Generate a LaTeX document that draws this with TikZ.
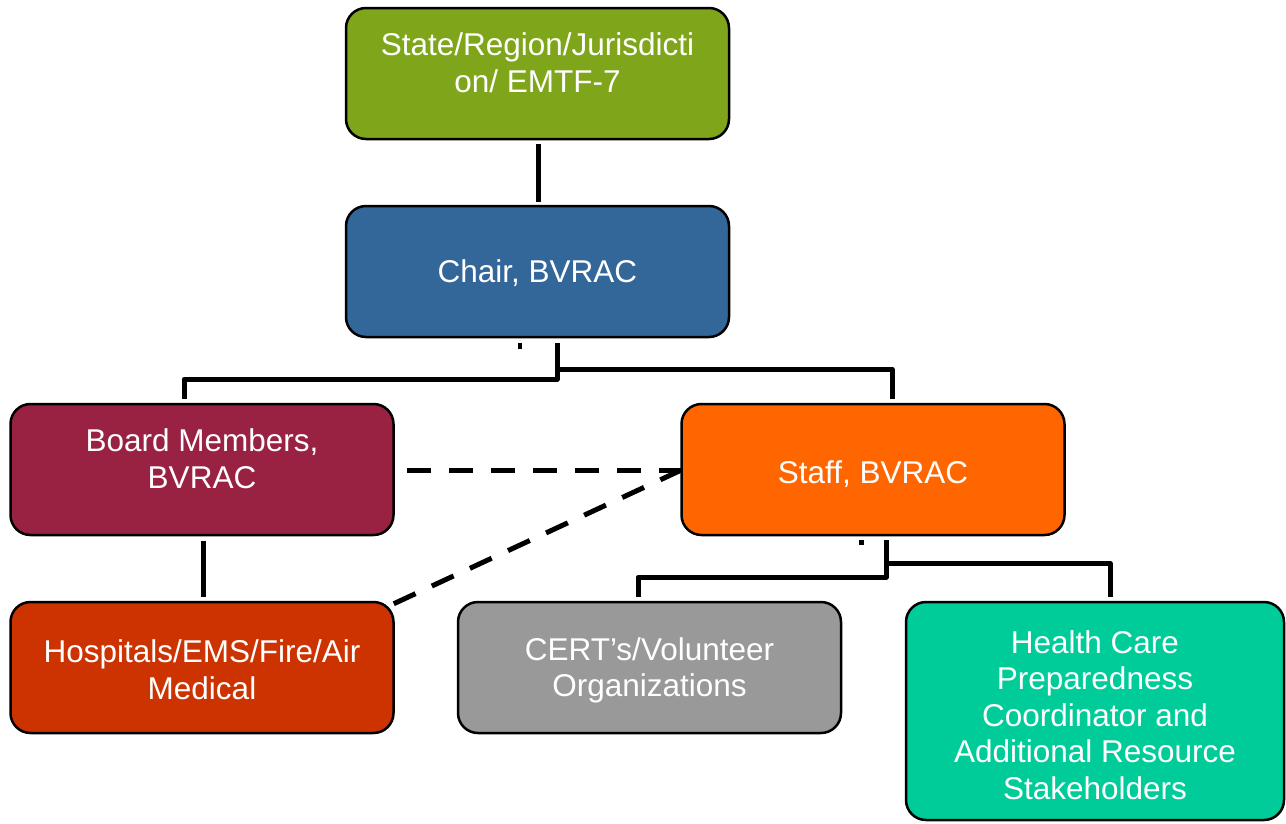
\documentclass[tikz,border=0pt]{standalone}
\usepackage{fontspec}
\setmainfont{Liberation Sans}
\usetikzlibrary{calc}
\definecolor{cgreen}{RGB}{127,166,26}
\definecolor{cblue}{RGB}{51,102,153}
\definecolor{cmaroon}{RGB}{153,33,66}
\definecolor{corange}{RGB}{255,102,0}
\definecolor{cred}{RGB}{204,51,0}
\definecolor{cgray}{RGB}{153,153,153}
\definecolor{cteal}{RGB}{0,204,153}
\begin{document}
\begin{tikzpicture}[x=1pt,y=-1pt,
  box/.style={draw=black,line width=2.5pt,rounded corners=20pt,minimum width=383pt,minimum height=131pt,inner sep=0pt},
  txt/.style={text=white,align=center,inner sep=0pt,font=\fontsize{31.5}{36.5}\selectfont},
  conn/.style={line width=5pt,line join=round},
  dashconn/.style={line width=5pt,dash pattern=on 24pt off 18pt}]
\useasboundingbox (0,0) rectangle (1286,823);
\node[box,fill=cgreen] (state) at (537.5,73.5) {};
\node[box,fill=cblue] (chair) at (537.5,271.5) {};
\node[box,fill=cmaroon] (board) at (202,469.5) {};
\node[box,fill=corange] (staff) at (873,469.5) {};
\node[box,fill=cred] (hosp) at (202,667.5) {};
\node[box,fill=cgray] (cert) at (649.5,667.5) {};
\node[box,fill=cteal,minimum width=378pt,minimum height=218pt] (health) at (1095,711) {};
\node[txt] (statet) at ($(state.center)+(0,-11)$) {State/Region/Jurisdicti\\on/ EMTF-7};
\node[txt] (chairt) at ($(chair.center)+(0,2)$) {Chair, BVRAC};
\node[txt] (boardt) at ($(board.center)+(0,-11)$) {Board Members,\\BVRAC};
\node[txt] (stafft) at ($(staff.center)+(0,5)$) {Staff, BVRAC};
\node[txt] (hospt) at ($(hosp.center)+(0,2)$) {Hospitals/EMS/Fire/Air\\Medical};
\node[txt] (certt) at ($(cert.center)+(0,3)$) {CERT’s/Volunteer\\Organizations};
\node[txt] (healtht) at ($(health.center)+(0,4)$) {Health Care\\Preparedness\\Coordinator and\\Additional Resource\\Stakeholders};
% connectors
\draw[conn] ($(state.south)+(0.5,4)$) -- ($(chair.north)+(0.5,-3)$);
\coordinate (cj) at ($(chair.south)+(19.5,5)$);
\draw[conn] (cj) -- ($(cj)+(0,36)$) -| ($(board.north)+(-18,-4)$);
\draw[conn] ($(cj)+(0,26)$) -| ($(staff.north)+(19,-4)$);
\fill ($(chair.south)+(-20,5)$) rectangle ++(4,6);
\draw[conn] ($(board.south)+(1,5)$) -- ($(hosp.north)+(1,-4)$);
\coordinate (sj) at ($(staff.south)+(13,4)$);
\draw[conn] (sj) -- ($(sj)+(0,37)$) -| ($(cert.north)+(-11.5,-4)$);
\draw[conn] ($(sj)+(0,23)$) -| ($(health.north)+(15,-4)$);
\fill ($(staff.south)+(-14,4)$) rectangle ++(5,5);
\draw[dashconn] ($(board.east)+(12,0.5)$) -- ($(staff.west)+(1,0.5)$);
\draw[dashconn] ($(hosp.north east)+(-1,3)$) -- ($(staff.west)+(-1,1.5)$);
\end{tikzpicture}
\end{document}
